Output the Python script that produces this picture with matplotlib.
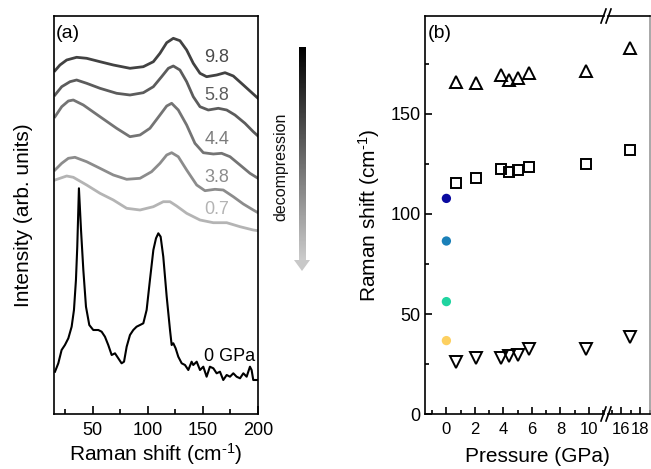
import numpy as np
import matplotlib
matplotlib.use("Agg")
import matplotlib.pyplot as plt
from matplotlib.patches import Polygon
from matplotlib.lines import Line2D

plt.rcParams["font.family"] = ["Liberation Sans", "DejaVu Sans"]
plt.rcParams["mathtext.fontset"] = "custom"
plt.rcParams["mathtext.rm"] = "Liberation Sans"
plt.rcParams["mathtext.it"] = "Liberation Sans:italic"
plt.rcParams["mathtext.bf"] = "Liberation Sans:bold"

# ---------------- panel (a): Raman spectra on decompression ----------------
x_98 = [15.9, 20.4, 26.5, 35.5, 44.6, 56.7, 68.8, 83.9, 96.0, 105.1, 111.1, 117.2,
        123.2, 129.2, 135.3, 141.3, 147.4, 153.4, 162.5, 170.1, 177.6, 186.7, 195.7, 200.0]
i_98 = [343.3, 349.0, 354.0, 356.7, 355.7, 352.3, 349.0, 345.7, 347.3, 352.3, 360.7, 371.3,
        375.7, 373.3, 364.0, 350.7, 340.7, 337.3, 339.0, 341.3, 338.0, 329.0, 320.0, 315.7]

x_58 = [15.9, 22.0, 29.5, 35.5, 44.6, 56.7, 71.8, 83.9, 96.0, 105.1, 112.6, 118.7,
        123.2, 129.2, 135.3, 141.3, 147.4, 154.9, 164.0, 171.6, 179.1, 188.2, 195.7, 200.0]
i_58 = [319.0, 327.3, 332.3, 334.0, 330.7, 325.7, 320.7, 319.0, 321.3, 327.3, 337.3, 345.7,
        348.0, 344.0, 332.3, 317.3, 307.3, 304.0, 305.7, 304.0, 299.0, 290.7, 282.3, 278.0]

x_44 = [15.9, 22.0, 28.0, 32.5, 41.6, 56.7, 71.8, 83.9, 93.0, 102.0, 111.1, 117.2,
        121.7, 127.7, 135.3, 142.8, 150.4, 159.5, 167.0, 174.6, 183.7, 192.7, 200.0]
i_44 = [297.3, 307.3, 313.0, 314.0, 309.0, 297.3, 285.7, 277.3, 279.0, 285.7, 299.0, 308.0,
        310.7, 304.0, 289.0, 270.7, 261.3, 260.0, 260.7, 257.3, 249.0, 240.7, 235.7]

x_38 = [15.9, 22.0, 28.0, 34.0, 44.6, 56.7, 68.8, 80.9, 93.0, 103.5, 111.1, 117.2,
        121.7, 127.7, 135.3, 144.4, 151.9, 161.0, 168.5, 177.6, 186.7, 195.7, 200.0]
i_38 = [244.0, 250.7, 255.7, 256.7, 252.3, 245.7, 239.0, 234.7, 235.7, 242.3, 250.7, 259.0,
        261.3, 257.3, 244.0, 229.0, 223.3, 224.7, 224.0, 217.3, 210.0, 204.0, 201.3]

x_07 = [15.9, 20.4, 26.5, 32.5, 44.6, 56.7, 68.8, 80.9, 93.0, 105.1, 114.1, 120.2,
        126.2, 135.3, 147.4, 159.5, 171.6, 183.7, 195.7, 200.0]
i_07 = [234.0, 235.7, 238.0, 236.7, 229.0, 220.7, 214.0, 205.7, 204.0, 207.3, 212.3, 212.3,
        208.0, 200.7, 194.0, 191.3, 191.3, 187.3, 184.0, 183.3]

x_00 = [15.9, 18.9, 21.9, 24.9, 28.0, 31.0, 33.1, 34.9, 36.1, 37.6, 39.5, 41.6, 44.0,
        47.0, 50.6, 55.2, 58.2, 61.2, 64.2, 67.3, 70.3, 73.3, 76.3, 78.5, 80.9, 83.9,
        86.9, 89.9, 93.0, 96.0, 99.0, 102.0, 105.1, 107.5, 109.6, 111.7, 114.1, 117.2,
        120.2, 121.7, 123.2, 125.3, 127.7, 130.8, 133.8, 136.8, 139.8, 141.3, 144.4,
        147.4, 150.4, 153.4, 156.4, 159.5, 162.5, 165.5, 168.5, 171.6, 174.6, 177.6,
        180.6, 183.7, 186.7, 189.7, 192.7, 194.2, 195.7, 200.0]
i_00 = [42.3, 50.7, 64.0, 69.0, 75.7, 87.3, 104.0, 134.0, 167.3, 225.7, 184.0, 144.0, 107.3,
        89.0, 84.0, 84.0, 82.3, 77.3, 69.0, 59.0, 60.7, 55.7, 50.7, 52.3, 67.3, 79.0,
        84.0, 87.3, 89.0, 90.7, 104.0, 134.0, 164.0, 175.7, 180.7, 177.3, 157.3, 117.3,
        84.0, 69.0, 70.7, 65.7, 57.3, 50.7, 49.0, 44.0, 52.3, 49.0, 52.3,
        44.0, 47.3, 37.3, 47.3, 45.7, 40.7, 42.3, 34.0, 39.0, 37.3, 40.7,
        37.3, 35.7, 40.7, 37.3, 47.3, 44.0, 34.0, 34.0]

spec_labels = ["9.8", "5.8", "4.4", "3.8", "0.7", "0 GPa"]
label_x = [162.5, 162.5, 162.5, 162.5, 162.5, 174.6]
label_y = [357, 318, 274, 237, 204, 58]

# ---------------- panel (b): mode frequencies vs pressure ----------------
p_low = [0.7, 2.1, 3.8, 4.4, 5.0, 5.8, 9.8]
p_high = [16.9]
top_low = [166.2, 165.3, 169.5, 167.0, 168.0, 170.3, 171.5]
top_high = [182.8]
mid_low = [115.3, 118.2, 122.5, 120.8, 122.0, 123.3, 125.0]
mid_high = [132.0]
bot_low = [26.2, 27.8, 27.8, 29.0, 29.5, 32.3, 32.3]
bot_high = [38.7]
amb_p = [0, 0, 0, 0]
amb_shift = [107.8, 86.5, 56.2, 36.7]
amb_colors = ["#0a0aa0", "#1a80b8", "#20d4a0", "#fdd060"]

# ---------------- layout helpers (pixels -> figure fraction) ----------------
W, H = 651, 469
def fx(px):
    return px / W
def fy(py):
    return 1 - py / H

WAVENUM = r"Raman shift (cm$^{\text{-}1}$)"

fig = plt.figure(figsize=(6.51, 4.69), dpi=100)

# ---- panel (a) ----
ax = fig.add_axes([fx(54), fy(414), fx(258) - fx(54), fy(16) - fy(414)])
curves = [(x_98, i_98, "#424242", 2.0), (x_58, i_58, "#5c5c5c", 2.0),
          (x_44, i_44, "#747474", 2.0), (x_38, i_38, "#8c8c8c", 2.0),
          (x_07, i_07, "#b4b4b4", 2.0), (x_00, i_00, "#000000", 1.5)]
label_colors = ["#4a4a4a", "#5c5c5c", "#7c7c7c", "#8c8c8c", "#b4b4b4", "#000000"]
for (xs, ys, col, lw) in curves:
    ax.plot(xs, ys, color=col, lw=lw, solid_joinstyle="round")
for lab, lx, ly, lc in zip(spec_labels, label_x, label_y, label_colors):
    ax.text(lx, ly, lab, color=lc, fontsize=13, ha="center", va="center")
ax.set_xlim(15, 200)
ax.set_ylim(0, 398)
ax.set_xticks([50, 100, 150, 200])
ax.set_xticks([25, 75, 125, 175], minor=True)
ax.set_yticks([])
ax.tick_params(axis="x", which="major", direction="in", length=6, width=1.2,
               labelsize=13, pad=6)
ax.tick_params(axis="x", which="minor", direction="in", length=3.5, width=1.2)
for s in ax.spines.values():
    s.set_linewidth(1.2)
ax.set_xlabel(WAVENUM, fontsize=15, labelpad=1)
ax.set_ylabel("Intensity (arb. units)", fontsize=15, labelpad=15)
fig.text(fx(68), fy(33), "(a)", fontsize=14, ha="center", va="center")

# ---- decompression arrow ----
axa = fig.add_axes([fx(290), fy(274), fx(314) - fx(290), fy(42) - fy(274)])
axa.set_xlim(290, 314)
axa.set_ylim(274, 42)
axa.axis("off")
grad = np.linspace(0.0, 0.80, 256)[:, None]
axa.imshow(grad, cmap="gray", vmin=0, vmax=1, aspect="auto",
           extent=[298.5, 305.5, 261, 47])
axa.add_patch(Polygon([(294, 260), (310, 260), (302, 271)], closed=True,
                      color="#c8c8c8", lw=0))
fig.text(fx(281), fy(167), "decompression", rotation=90, fontsize=11.5,
         ha="center", va="center", color="#111111")

# ---- panel (b), broken x axis ----
ax1 = fig.add_axes([fx(425), fy(414), fx(604) - fx(425), fy(16) - fy(414)])
ax2 = fig.add_axes([fx(608), fy(414), fx(650) - fx(608), fy(16) - fy(414)], sharey=ax1)

mk = dict(mfc="none", mec="black", mew=1.4, ls="none")
for a, pp, tt, mm, bb in [(ax1, p_low, top_low, mid_low, bot_low),
                          (ax2, p_high, top_high, mid_high, bot_high)]:
    a.plot(pp, tt, "^", ms=9, **mk)
    a.plot(pp, mm, "s", ms=7.5, **mk)
    a.plot(pp, bb, "v", ms=9, **mk)
ax1.scatter(amb_p, amb_shift, c=amb_colors, s=45, zorder=3, linewidths=0)

ax1.set_xlim(-1.5, 11.05)
ax2.set_xlim(14.63, 19.05)
ax1.set_ylim(0, 199)
ax1.set_xticks([0, 2, 4, 6, 8, 10])
ax1.set_xticks([-1, 1, 3, 5, 7, 9, 11], minor=True)
ax2.set_xticks([16, 18])
ax2.set_xticks([15, 17, 19], minor=True)
ax1.set_yticks([0, 50, 100, 150])
ax1.set_yticks([25, 75, 125, 175], minor=True)
for a in (ax1, ax2):
    a.tick_params(which="major", direction="in", length=5, width=1.2)
    a.tick_params(which="minor", direction="in", length=2.8, width=1.2)
    a.tick_params(axis="x", labelsize=12, pad=6)
    a.tick_params(axis="y", labelsize=13, pad=3)
    for s in a.spines.values():
        s.set_linewidth(1.2)
ax1.spines["right"].set_visible(False)
ax2.spines["left"].set_visible(False)
ax2.spines["right"].set_color("#999999")
ax2.tick_params(axis="y", which="both", left=False, labelleft=False)
ax1.set_ylabel(WAVENUM, fontsize=15, labelpad=6)
fig.text(fx(537.5), fy(456), "Pressure (GPa)", fontsize=15, ha="center", va="center")
fig.text(fx(440), fy(33), "(b)", fontsize=14, ha="center", va="center")

# break marks
for yc in (16, 414):
    for xc in (603.5, 608.5):
        fig.add_artist(Line2D([fx(xc - 2.5), fx(xc + 2.5)], [fy(yc + 7), fy(yc - 7)],
                              transform=fig.transFigure, color="black", lw=1.2,
                              clip_on=False))

fig.savefig("out.png", dpi=100)
